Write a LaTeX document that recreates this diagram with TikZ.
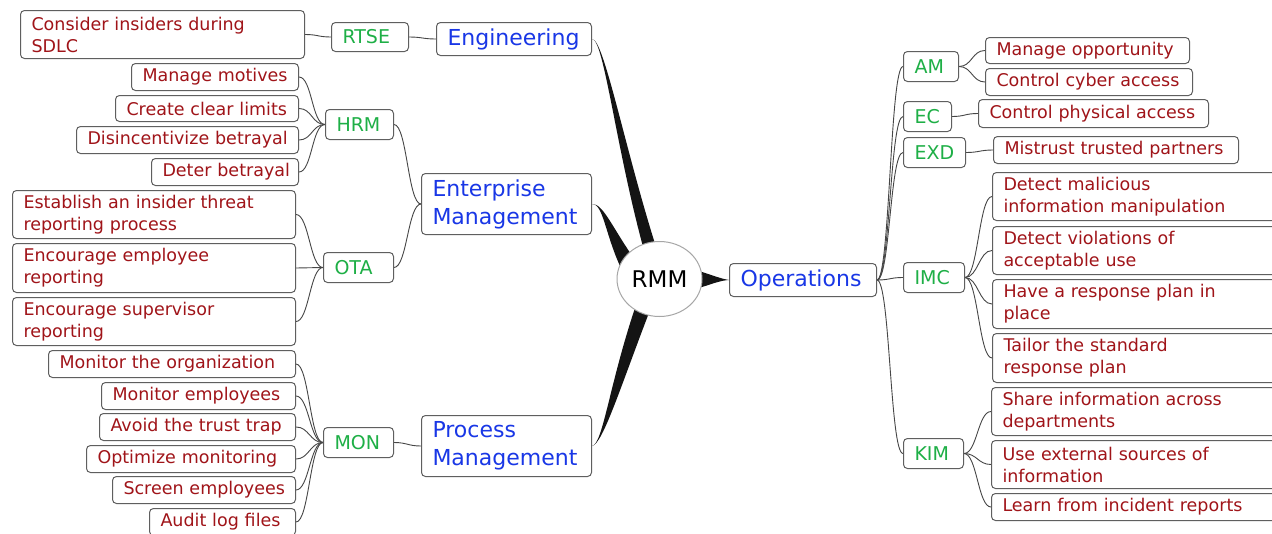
\documentclass[tikz,border=0pt]{standalone}
\usepackage{fontspec}
\setmainfont{DejaVu Sans}
\usetikzlibrary{calc,backgrounds,shapes.geometric}
\definecolor{leafred}{RGB}{160,20,25}
\definecolor{midgreen}{RGB}{30,175,70}
\definecolor{topblue}{RGB}{25,55,230}
\definecolor{boxline}{RGB}{95,95,95}
\definecolor{linkgray}{RGB}{70,70,70}
\tikzset{
 base/.style={draw=boxline, line width=1pt, rounded corners=4pt, fill=white, align=left, inner xsep=11pt, inner ysep=0pt, anchor=north west},
 leaf/.style={base, text=leafred, font=\fontsize{17.5}{22}\selectfont},
 mid/.style={base, text=midgreen, font=\fontsize{19}{23}\selectfont},
 top/.style={base, text=topblue, font=\fontsize{22}{28}\selectfont},
 link/.style={draw=linkgray, line width=0.9pt},
 trunk/.style={fill=black!92},
}
\newcommand\bx[7]{%
 \pgfmathsetmacro\bxw{#5-#3}\pgfmathsetmacro\bxh{#6-#4}\pgfmathsetmacro\bxt{#5-#3-22}%
 \node[#1, minimum width=\bxw pt, minimum height=\bxh pt, text width=\bxt pt] (#2) at (#3,#4) {#7};}
\newcommand\lk[2]{\draw[link] (#1.east) .. controls +(13,0) and +(-13,0) .. (#2.west);}
\begin{document}
\begin{tikzpicture}[x=1pt,y=-1pt]
\useasboundingbox (0,0) rectangle (1272,533);
% central
\node[ellipse, draw=black!35, line width=1pt, fill=white, minimum width=85pt, minimum height=75pt, inner sep=0pt, font=\fontsize{23}{26}\selectfont] (rmm) at (659.5,279) {RMM};
% left: engineering
\bx{leaf}{c1}{20}{10}{304}{58}{\mbox{Consider insiders during}\\\mbox{SDLC}}
\bx{mid}{rtse}{331}{22}{408}{51}{\mbox{RTSE}}
\bx{top}{eng}{436}{22}{591}{55}{\mbox{Engineering}}
% left: enterprise management
\bx{leaf}{h1}{131}{63}{298}{90}{\mbox{Manage motives}}
\bx{leaf}{h2}{115}{95}{298}{121}{\mbox{Create clear limits}}
\bx{leaf}{h3}{76}{126}{298}{153}{\mbox{Disincentivize betrayal}}
\bx{leaf}{h4}{151}{158}{298}{185}{\mbox{Deter betrayal}}
\bx{mid}{hrm}{325}{109}{393}{139}{\mbox{HRM}}
\bx{leaf}{o1}{12}{190}{295}{238}{\mbox{Establish an insider threat}\\\mbox{reporting process}}
\bx{leaf}{o2}{12}{243}{295}{292}{\mbox{Encourage employee}\\\mbox{reporting}}
\bx{leaf}{o3}{12}{297}{295}{345}{\mbox{Encourage supervisor}\\\mbox{reporting}}
\bx{mid}{ota}{323}{252}{393}{282}{\mbox{OTA}}
\bx{top}{ent}{421}{173}{591}{234}{\mbox{Enterprise}\\\mbox{Management}}
% left: process management
\bx{leaf}{m1}{48}{350}{295}{377}{\mbox{Monitor the organization}}
\bx{leaf}{m2}{101}{382}{295}{409}{\mbox{Monitor employees}}
\bx{leaf}{m3}{99}{413}{295}{440}{\mbox{Avoid the trust trap}}
\bx{leaf}{m4}{86}{445}{295}{472}{\mbox{Optimize monitoring}}
\bx{leaf}{m5}{112}{476}{295}{503}{\mbox{Screen employees}}
\bx{leaf}{m6}{149}{508}{295}{535}{\mbox{Audit log files}}
\bx{mid}{mon}{323}{427}{393}{457}{\mbox{MON}}
\bx{top}{proc}{421}{415}{591}{476}{\mbox{Process}\\\mbox{Management}}
% right: operations
\bx{top}{ops}{729}{263}{876}{296}{\mbox{Operations}}
\bx{mid}{am}{903}{51}{958}{81}{\mbox{AM}}
\bx{leaf}{a1}{985}{37}{1189}{63}{\mbox{Manage opportunity}}
\bx{leaf}{a2}{985}{68}{1192}{95}{\mbox{Control cyber access}}
\bx{mid}{ec}{903}{101}{951}{131}{\mbox{EC}}
\bx{leaf}{e1}{978}{99}{1208}{127}{\mbox{Control physical access}}
\bx{mid}{exd}{903}{137}{965}{167}{\mbox{EXD}}
\bx{leaf}{x1}{993}{136}{1238}{163}{\mbox{Mistrust trusted partners}}
\bx{mid}{imc}{903}{262}{964}{292}{\mbox{IMC}}
\bx{leaf}{i1}{992}{172}{1290}{220}{\mbox{Detect malicious}\\\mbox{information manipulation}}
\bx{leaf}{i2}{992}{226}{1290}{274}{\mbox{Detect violations of}\\\mbox{acceptable use}}
\bx{leaf}{i3}{992}{279}{1290}{328}{\mbox{Have a response plan in}\\\mbox{place}}
\bx{leaf}{i4}{992}{333}{1290}{382}{\mbox{Tailor the standard}\\\mbox{response plan}}
\bx{mid}{kim}{903}{438}{963}{468}{\mbox{KIM}}
\bx{leaf}{k1}{991}{387}{1290}{435}{\mbox{Share information across}\\\mbox{departments}}
\bx{leaf}{k2}{991}{440}{1290}{488}{\mbox{Use external sources of}\\\mbox{information}}
\bx{leaf}{k3}{991}{493}{1290}{520}{\mbox{Learn from incident reports}}
\begin{pgfonlayer}{background}
\fill[white] (0,0) rectangle (1272,533);
% tapered main branches
\fill[trunk] (eng.east) .. controls (604,38.5) and (616,150) .. (645,254)
  -- (657,250) .. controls (625,150) and (604,38.5) .. (eng.east) -- cycle;
\fill[trunk] (ent.east) .. controls (603,203.5) and (605,233) .. (620,266)
  -- (633,257) .. controls (612,227) and (603,203.5) .. (ent.east) -- cycle;
\fill[trunk] (proc.east) .. controls (603,444) and (609,385) .. (636,305)
  -- (652,305) .. controls (621,385) and (603,444) .. (proc.east) -- cycle;
\fill[trunk] ($(rmm.center)+(31,-9)$) -- (702,272) .. controls (712,275) and (720,278.5) .. (ops.west)
  .. controls (720,280.5) and (712,284) .. (702,287) -- ($(rmm.center)+(31,9)$) -- cycle;
% links
\lk{c1}{rtse}\lk{rtse}{eng}
\lk{h1}{hrm}\lk{h2}{hrm}\lk{h3}{hrm}\lk{h4}{hrm}
\lk{o1}{ota}\lk{o2}{ota}\lk{o3}{ota}
\lk{hrm}{ent}\lk{ota}{ent}
\lk{m1}{mon}\lk{m2}{mon}\lk{m3}{mon}\lk{m4}{mon}\lk{m5}{mon}\lk{m6}{mon}
\lk{mon}{proc}
\lk{ops}{am}\lk{ops}{ec}\lk{ops}{exd}\lk{ops}{imc}\lk{ops}{kim}
\lk{am}{a1}\lk{am}{a2}\lk{ec}{e1}\lk{exd}{x1}
\lk{imc}{i1}\lk{imc}{i2}\lk{imc}{i3}\lk{imc}{i4}
\lk{kim}{k1}\lk{kim}{k2}\lk{kim}{k3}
\end{pgfonlayer}
\end{tikzpicture}
\end{document}
